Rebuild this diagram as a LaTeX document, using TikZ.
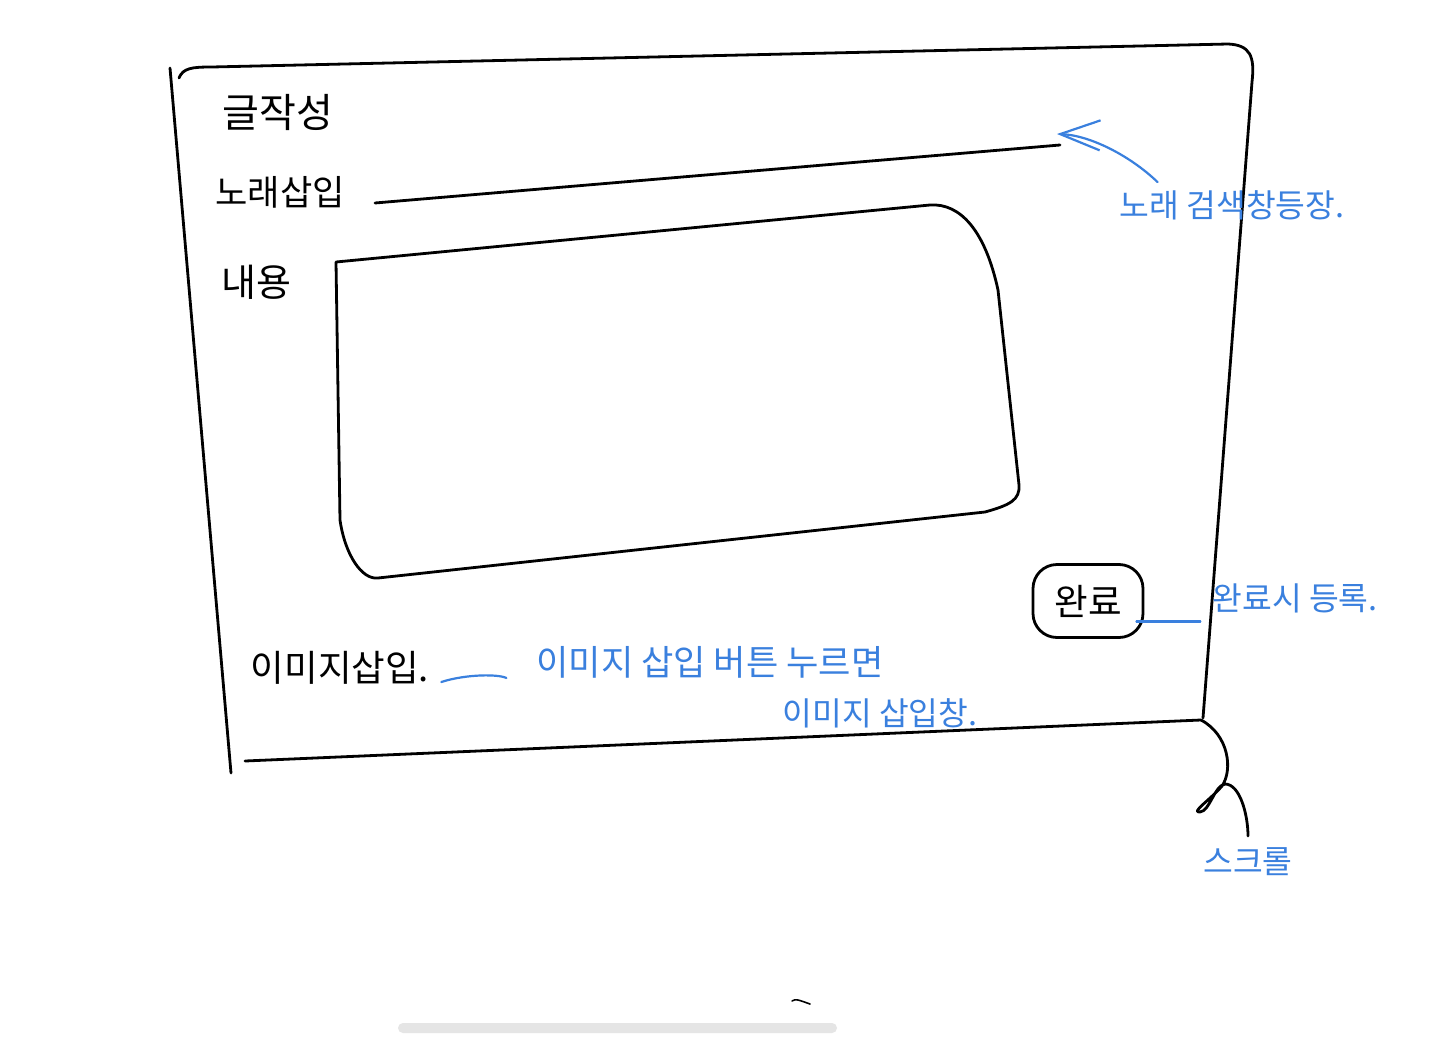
\documentclass[tikz,border=0pt]{standalone}
\usepackage{fontspec}
\setmainfont{Noto Sans CJK KR}
\usepackage{tikz}
\usetikzlibrary{arrows.meta,positioning,calc}
\definecolor{penblue}{RGB}{58,128,222}
\definecolor{barcol}{RGB}{229,229,229}

\begin{document}
\begin{tikzpicture}[
x=0.5mm, y=-0.5mm,
pen/.style={line width=1.4mm, line cap=round, line join=round},
bluepen/.style={pen, draw=penblue, line width=1.1mm},
lblnode/.style={inner sep=0pt, font=\fontsize{50}{56}\selectfont},
notenode/.style={inner sep=0pt, text=penblue, font=\fontsize{46}{52}\selectfont},
btnnode/.style={rectangle, rounded corners=12mm, draw, pen, minimum width=55mm, minimum height=36.5mm, inner sep=0pt, font=\fontsize{52}{58}\selectfont},
]
\useasboundingbox (0,0) rectangle (1440,1043);
\fill[white] (0,0) rectangle (1440,1043);

%Frame
\draw[pen] (170,68) -- (231,773);
\draw[pen] (179,78) .. controls (183,68) and (192,67) .. (212,67) -- (1228,44)
  .. controls (1250,45) and (1255,56) .. (1252,82) -- (1203,718);
\draw[pen] (245,761) -- (1201,720);
\draw[pen] (1201,720) .. controls (1229,735) and (1233,770) .. (1222,786)
  .. controls (1210,800) and (1190,813) .. (1200,812)
  .. controls (1210,811) and (1214,786) .. (1225,784)
  .. controls (1240,784) and (1248,815) .. (1248,836);

%Text area
\draw[pen] (336,262) -- (930,205) .. controls (960,203) and (985,230) .. (998,290)
  -- (1019,485) .. controls (1020,500) and (1010,505) .. (985,512)
  -- (378,578) .. controls (362,580) and (345,555) .. (340,520) -- cycle;

%Nodes
\node[lblnode, font=\fontsize{57}{62}\selectfont] (title) at (278,112) {글작성};
\node[lblnode] (song) at (280,192) {노래삽입};
\node[lblnode, font=\fontsize{54}{60}\selectfont] (body) at (256,282) {내용};
\node[lblnode, font=\fontsize{52}{58}\selectfont] (imglabel) at (340,668) {이미지삽입.};
\node[btnnode] (donebtn) at (1088,601) {완료};

\node[notenode] (songnote) at (1232,205) {노래 검색창등장.};
\node[notenode] (donenote) at (1295,598) {완료시 등록.};
\node[notenode, font=\fontsize{50}{56}\selectfont] (imgnote) at (710,662) {이미지 삽입 버튼 누르면};
\node[notenode] (imgnote2) at (880,713) {이미지 삽입창.};
\node[notenode] (scrollnote) at (1248,862) {스크롤};

\coordinate (songstart) at (375,203);
\coordinate (songend) at (1060,145);
\coordinate (songtip) at (1057,134);

%Connectors
\draw[pen] (songstart) -- (songend);
\draw[bluepen, -{Straight Barb[length=20mm, width=15mm]}]
  ([xshift=19mm, yshift=4mm]songnote.north west) .. controls +(-28,-27) and +(32,1) .. (songtip);
\draw[bluepen] ([xshift=-4mm]donebtn.-20) -- ([xshift=-6mm]donebtn.-20 -| donenote.west);
\draw[bluepen] ([xshift=6mm, yshift=-7mm]imglabel.east) .. controls +(25,-8) and +(-8,-4) .. ([xshift=-15mm, yshift=-8mm]imgnote.west);

%Screen bar
\fill[barcol, rounded corners=2.5mm] (398,1023) rectangle (837,1033);
\draw[pen, line width=0.8mm] (792,1001) .. controls (796,999) .. (810,1004);
\end{tikzpicture}
\end{document}
